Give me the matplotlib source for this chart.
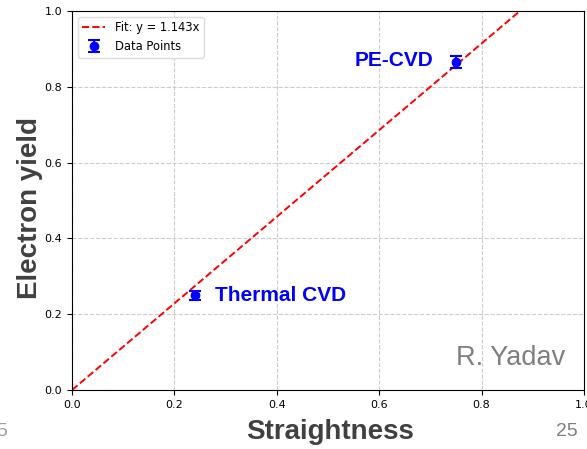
import matplotlib
matplotlib.use("Agg")
import matplotlib.pyplot as plt
import numpy as np

straightness = [0.24, 0.75]
electron_yield = [0.25, 0.865]
yield_err = [0.012, 0.016]
point_labels = ["Thermal CVD", "PE-CVD"]
fit_slope = 1.143

fig = plt.figure(figsize=(5.87, 4.49), dpi=100)
ax = fig.add_axes([72/587, 59/449, 512/587, 379/449])

xs = np.array([0.0, 1.0])
ax.plot(xs, fit_slope * xs, 'r--', lw=1.4, label=f"Fit: y = {fit_slope}x")
ax.errorbar(straightness, electron_yield, yerr=yield_err, fmt='o', color='blue',
            ms=6, capsize=4, elinewidth=1.5, capthick=1.5, label="Data Points")

ax.text(straightness[0] + 0.04, electron_yield[0], point_labels[0], color='blue',
        fontsize=15, fontweight='bold', family='Liberation Sans', va='center', ha='left')
ax.text(straightness[1] - 0.045, electron_yield[1] + 0.005, point_labels[1], color='blue',
        fontsize=15, fontweight='bold', family='Liberation Sans', va='center', ha='right')

ax.set_xlim(0, 1)
ax.set_ylim(0, 1)
ax.set_xticks(np.arange(0, 1.01, 0.2))
ax.set_yticks(np.arange(0, 1.01, 0.2))
ax.tick_params(labelsize=8)
ax.grid(True, linestyle='--', color='#cccccc', lw=0.8)
ax.set_axisbelow(True)

ax.legend(loc='upper left', fontsize=8.3, framealpha=1, edgecolor='#dddddd')

fig.text(330/587, 1 - 432/449, "Straightness", fontsize=20, fontweight='bold',
         family='Liberation Sans', color='#404040', ha='center', va='center')
fig.text(30/587, 1 - 208/449, "Electron yield", fontsize=20, fontweight='bold',
         family='Liberation Sans', color='#404040', ha='center', va='center', rotation=90)
ax.text(0.963, 0.084, "R. Yadav", transform=ax.transAxes, fontsize=19.5,
        family='Liberation Sans', color='#7f7f7f', ha='right', va='center')
fig.text(567/587, 1 - 432/449, "25", fontsize=14, family='Liberation Sans',
         color='#7f7f7f', ha='center', va='center')
fig.text(-4/587, 1 - 432/449, "5", fontsize=14, family='Liberation Sans',
         color='#a0a0a0', ha='left', va='center')

fig.savefig("out.png", dpi=100)
